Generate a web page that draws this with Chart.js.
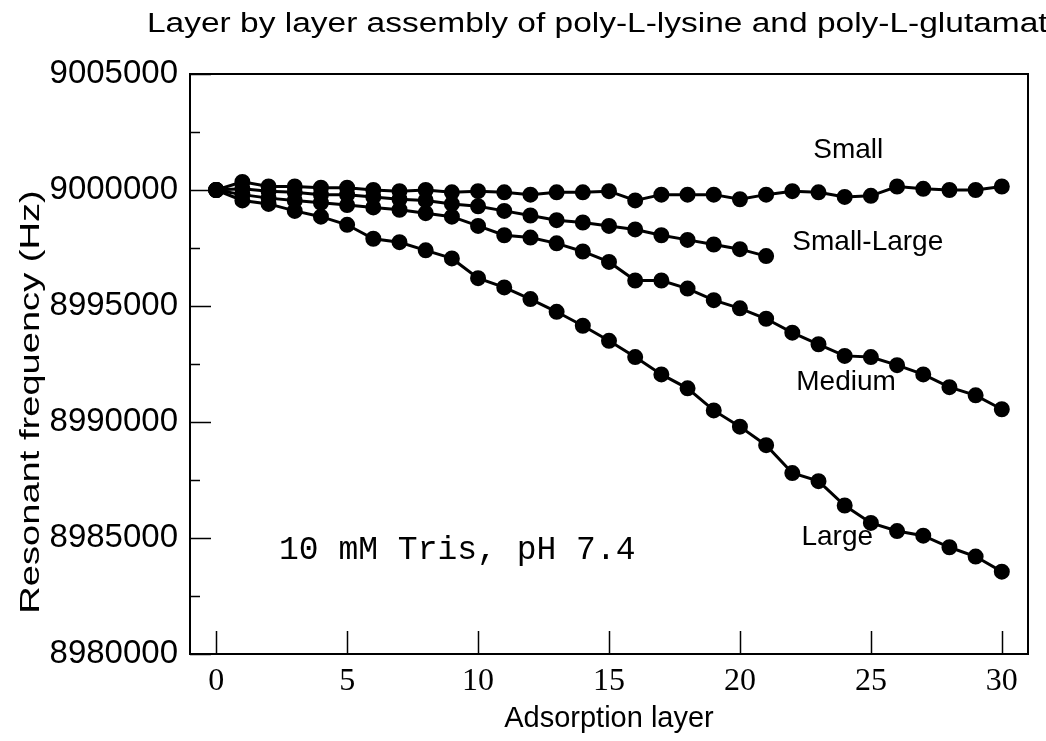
<!DOCTYPE html>
<html>
<head>
<meta charset="utf-8">
<script src="https://cdn.jsdelivr.net/npm/chart.js@4.4.1/dist/chart.umd.min.js"></script>
<style>
  html, body { margin: 0; padding: 0; background: #fff; }
  #wrap { width: 1046px; height: 741px; }
</style>
</head>
<body>
<div id="wrap"><canvas id="chart"></canvas></div>
<script>
const layers = [0, 1, 2, 3, 4, 5, 6, 7, 8, 9, 10, 11, 12, 13, 14, 15, 16, 17, 18, 19, 20, 21, 22, 23, 24, 25, 26, 27, 28, 29, 30];

const small = [9000000, 9000350, 9000150, 9000150, 9000100, 9000100, 9000000, 8999950, 9000000, 8999900, 8999950,
    8999900, 8999800, 8999900, 8999900, 8999950, 8999550, 8999800, 8999800, 8999800, 8999600,
    8999800, 8999950, 8999900, 8999700, 8999750, 9000150, 9000050, 9000000, 9000000, 9000150];

const smallLarge = [9000000, 9000050, 8999950, 8999900, 8999800, 8999800, 8999700, 8999600, 8999550, 8999400, 8999300,
    8999100, 8998900, 8998700, 8998600, 8998450, 8998300, 8998050, 8997850, 8997650, 8997450,
    8997150];

const medium = [9000000, 8999800, 8999650, 8999550, 8999450, 8999350, 8999250, 8999150, 8999000, 8998850, 8998450,
    8998050, 8997950, 8997700, 8997350, 8996900, 8996100, 8996100, 8995750, 8995250, 8994900,
    8994450, 8993850, 8993350, 8992850, 8992800, 8992450, 8992050, 8991500, 8991150, 8990550];

const large = [9000000, 8999550, 8999400, 8999100, 8998850, 8998500, 8997900, 8997750, 8997400, 8997050, 8996200,
    8995800, 8995300, 8994750, 8994150, 8993500, 8992800, 8992050, 8991450, 8990500, 8989800,
    8989000, 8987800, 8987450, 8986400, 8985650, 8985300, 8985100, 8984600, 8984200, 8983550];

const yTicks = [8980000, 8985000, 8990000, 8995000, 9000000, 9005000];
const yMinorTicks = [8982500, 8987500, 8992500, 8997500, 9002500];
const xTicks = [0, 5, 10, 15, 20, 25, 30];

// curve labels written inside the plot, placed in data units
const noteTexts = ['Small', 'Small-Large', 'Medium', 'Large'];
const noteX = [22.8, 22.0, 22.15, 22.35];
const noteY = [9001720, 8997760, 8991720, 8985040];

const titleText = 'Layer by layer assembly of poly-L-lysine and poly-L-glutamate';
const bufferText = '10 mM Tris, pH 7.4';

function toPoints(values) {
    return values.map((v, i) => ({ x: layers[i], y: v }));
}

function series(label, values) {
    return {
        label: label,
        data: toPoints(values),
        borderColor: '#000',
        backgroundColor: '#000',
        borderWidth: 3,
        pointRadius: 6.5,
        pointHoverRadius: 6.5,
        tension: 0
    };
}

const decorations = {
    id: 'decorations',
    afterDatasetsDraw(chart) {
        const ctx = chart.ctx;
        const area = chart.chartArea;
        const xs = chart.scales.x;
        const ys = chart.scales.y;
        ctx.save();

        // frame around the plot
        ctx.strokeStyle = '#000';
        ctx.lineWidth = 2;
        ctx.strokeRect(area.left, area.top, area.right - area.left, area.bottom - area.top);

        // inward ticks
        ctx.lineWidth = 1.5;
        ctx.beginPath();
        xTicks.forEach(v => {
            const px = Math.round(xs.getPixelForValue(v)) + 0.5;
            ctx.moveTo(px, area.bottom);
            ctx.lineTo(px, area.bottom - 23);
        });
        yTicks.forEach(v => {
            const py = Math.round(ys.getPixelForValue(v)) + 0.5;
            ctx.moveTo(area.left, py);
            ctx.lineTo(area.left + 21, py);
        });
        yMinorTicks.forEach(v => {
            const py = Math.round(ys.getPixelForValue(v)) + 0.5;
            ctx.moveTo(area.left, py);
            ctx.lineTo(area.left + 10, py);
        });
        ctx.stroke();

        // notes
        ctx.fillStyle = '#000';
        ctx.textBaseline = 'middle';
        ctx.textAlign = 'left';
        ctx.font = '28px "Liberation Sans", Arial, sans-serif';
        noteTexts.forEach((t, i) => {
            ctx.fillText(t, xs.getPixelForValue(noteX[i]), ys.getPixelForValue(noteY[i]));
        });
        ctx.font = '33px "Liberation Mono", "Courier New", monospace';
        ctx.fillText(bufferText, xs.getPixelForValue(2.4), ys.getPixelForValue(8984480));
        ctx.restore();
    },
    afterDraw(chart) {
        const ctx = chart.ctx;
        ctx.save();
        ctx.fillStyle = '#000';
        // title, set left and running past the right edge as in the scan
        ctx.font = '27px "Liberation Sans", Arial, sans-serif';
        ctx.textBaseline = 'alphabetic';
        ctx.textAlign = 'left';
        ctx.translate(147, 32);
        ctx.scale(1.24, 1);
        ctx.fillText(titleText, 0, 0);
        ctx.restore();

        // y axis title
        ctx.save();
        ctx.fillStyle = '#000';
        ctx.font = '28px "Liberation Sans", Arial, sans-serif';
        ctx.textAlign = 'center';
        ctx.textBaseline = 'middle';
        ctx.translate(31, 402);
        ctx.rotate(-Math.PI / 2);
        ctx.scale(1.36, 1);
        ctx.fillText('Resonant frequency (Hz)', 0, 0);
        ctx.restore();
    }
};

new Chart(document.getElementById('chart'), {
    type: 'line',
    data: {
        datasets: [
            series('Small', small),
            series('Small-Large', smallLarge),
            series('Medium', medium),
            series('Large', large)
        ]
    },
    options: {
        responsive: true,
        maintainAspectRatio: false,
        animation: false,
        layout: { padding: { top: 74, right: 18, left: 0, bottom: 0 } },
        plugins: {
            legend: { display: false },
            title: { display: false },
            tooltip: { enabled: false }
        },
        scales: {
            x: {
                type: 'linear',
                min: -1,
                max: 31,
                afterBuildTicks: scale => {
                    scale.ticks = xTicks.map(v => ({ value: v }));
                },
                afterFit: scale => { scale.height = 87; },
                grid: { display: false },
                border: { display: false },
                ticks: {
                    color: '#000',
                    padding: 0,
                    font: { family: '"Liberation Serif", "Times New Roman", serif', size: 32 }
                },
                title: {
                    display: true,
                    text: 'Adsorption layer',
                    color: '#000',
                    padding: { top: 0, bottom: 5 },
                    font: { family: '"Liberation Sans", Arial, sans-serif', size: 29 }
                }
            },
            y: {
                type: 'linear',
                min: 8980000,
                max: 9005000,
                afterBuildTicks: scale => {
                    scale.ticks = yTicks.map(v => ({ value: v }));
                },
                afterFit: scale => { scale.width = 190; },
                grid: { display: false },
                border: { display: false },
                ticks: {
                    color: '#000',
                    padding: 4,
                    callback: v => String(v),
                    font: { family: '"Liberation Sans", Arial, sans-serif', size: 33 }
                }
            }
        }
    },
    plugins: [decorations]
});
</script>
</body>
</html>
